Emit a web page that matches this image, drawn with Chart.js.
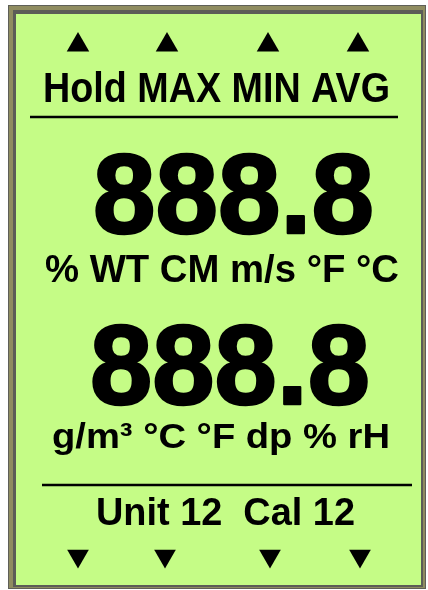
<!DOCTYPE html>
<html>
<head>
<meta charset="utf-8">
<title>LCD</title>
<script src="https://cdn.jsdelivr.net/npm/chart.js@4.4.1/dist/chart.umd.min.js"></script>
<style>
  html, body { margin: 0; padding: 0; background: #fff; }
  canvas { display: block; }
</style>
</head>
<body>
<canvas id="pantalla" width="428" height="590"></canvas>
<script>
// datos de la pantalla
const modos = ['Hold', 'MAX', 'MIN', 'AVG'];
const flechasArriba = [78, 167, 268, 358];
const flechasAbajo = [78, 165, 270, 360];
const lecturaArriba = '888.8';
const lecturaAbajo = '888.8';
const unidadesArriba = ['%', 'WT', 'CM', 'm/s', '°F', '°C'];
const unidadesAbajo = ['g/m³', '°C', '°F', 'dp', '%', 'rH'];
const estado = ['Unit 12', 'Cal 12'];

const verde = 'rgb(197,252,134)';
const fuente = '"Liberation Sans", Arial, sans-serif';

// marco del display
const marco = {
  id: 'marco',
  beforeDraw(chart) {
    const c = chart.ctx;
    c.save();
    c.fillStyle = '#fff';
    c.fillRect(0, 0, chart.width, chart.height);
    c.fillStyle = '#5e5f58';
    c.fillRect(8, 5, 418, 584);
    c.fillStyle = '#8f8c60';
    c.fillRect(9, 6, 416, 582);
    c.fillStyle = '#5c5d57';
    c.fillRect(13, 10, 410, 577);
    c.fillStyle = verde;
    c.fillRect(16, 14, 405, 571);
    c.restore();
  }
};

// textos del display
const textos = {
  id: 'textos',
  afterDatasetsDraw(chart) {
    const c = chart.ctx;
    const x = chart.scales.x;
    const y = chart.scales.y;
    c.save();
    c.fillStyle = '#000';
    c.strokeStyle = '#000';
    c.lineJoin = 'round';
    c.textAlign = 'left';
    c.textBaseline = 'alphabetic';

    // el texto se ajusta al ancho que ocupa en la pantalla
    const escribir = (txt, px, py, size, ancho, trazo) => {
      c.font = 'bold ' + size + 'px ' + fuente;
      const w = c.measureText(txt).width;
      c.save();
      c.translate(x.getPixelForValue(px), y.getPixelForValue(py));
      c.scale(ancho / w, 1);
      c.fillText(txt, 0, 0);
      if (trazo) {
        c.lineWidth = trazo;
        c.strokeText(txt, 0, 0);
      }
      c.restore();
    };
    const linea = (x1, x2, py, grosor) => {
      c.lineWidth = grosor;
      c.beginPath();
      c.moveTo(x.getPixelForValue(x1), y.getPixelForValue(py));
      c.lineTo(x.getPixelForValue(x2), y.getPixelForValue(py));
      c.stroke();
    };

    escribir(modos.join(' '), 43, 102, 42, 347);
    linea(30, 398, 117, 2.5);
    escribir(lecturaArriba, 93, 233, 114, 281, 2.5);
    escribir(unidadesArriba.join(' '), 45, 282, 38, 354);
    escribir(lecturaAbajo, 90, 404, 114, 280, 2.5);
    escribir(unidadesAbajo.join(' '), 52, 448, 35, 338);
    linea(42, 412, 485, 2.5);
    escribir(estado.join('  '), 96, 525, 39, 259);
    c.restore();
  }
};

const ctx = document.getElementById('pantalla');
const myChart = new Chart(ctx, {
  type: 'scatter',
  data: {
    datasets: [{
      label: 'arriba',
      data: flechasArriba.map(v => ({ x: v, y: 45 })),
      pointStyle: 'triangle',
      rotation: 0,
      radius: 13,
      backgroundColor: '#000',
      borderWidth: 0
    }, {
      label: 'abajo',
      data: flechasAbajo.map(v => ({ x: v, y: 556 })),
      pointStyle: 'triangle',
      rotation: 180,
      radius: 12.5,
      backgroundColor: '#000',
      borderWidth: 0
    }]
  },
  options: {
    responsive: false,
    animation: false,
    events: [],
    layout: { padding: 0, autoPadding: false },
    plugins: { legend: { display: false }, tooltip: { enabled: false } },
    scales: {
      x: { type: 'linear', min: 0, max: 428, display: false },
      y: { type: 'linear', min: 0, max: 590, reverse: true, display: false }
    }
  },
  plugins: [marco, textos]
});
</script>
</body>
</html>
